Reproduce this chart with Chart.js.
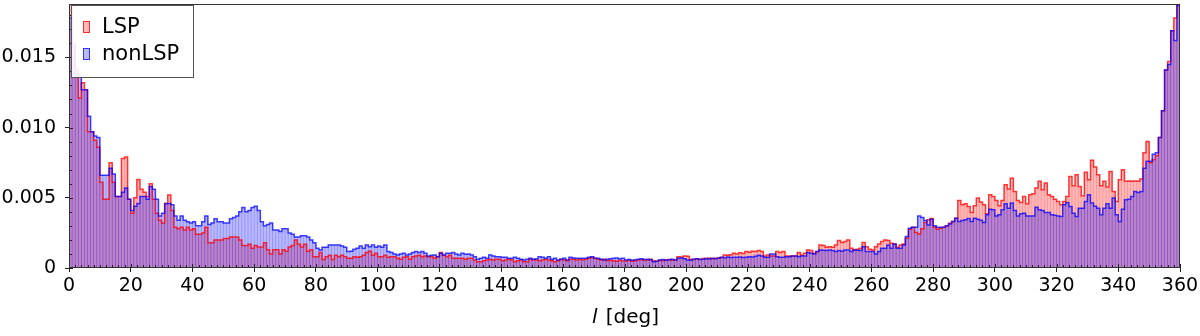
<!DOCTYPE html>
<html>
<head>
<meta charset="utf-8">
<script src="https://cdn.jsdelivr.net/npm/chart.js@4.4.1/dist/chart.umd.min.js"></script>
<style>
html,body{margin:0;padding:0;background:#fff;}
#wrap{width:1200px;height:336px;}
</style>
</head>
<body>
<div id="wrap"><canvas id="c" width="1200" height="336"></canvas></div>
<script>
// ---- data (1-degree bins, 0..360 deg) ----
const seriesLabels = ['LSP', 'nonLSP'];
const binStart = 0;
const binWidth = 1;

const lspValues = [
  // 0-39
  0.0195, 0.0160, 0.0142, 0.0121, 0.0132, 0.0127, 0.0097, 0.0097, 0.0091, 0.0086,
  0.0061, 0.0049, 0.0049, 0.0075, 0.0061, 0.0051, 0.0051, 0.0078, 0.0079, 0.0049,
  0.0039, 0.0050, 0.0063, 0.0056, 0.0054, 0.0051, 0.0060, 0.0049, 0.0039, 0.0034,
  0.0032, 0.0046, 0.0052, 0.0041, 0.0029, 0.0028, 0.0029, 0.0027, 0.0029, 0.0027,
  // 40-79
  0.0028, 0.0024, 0.0024, 0.0025, 0.0029, 0.0018, 0.0018, 0.0020, 0.0020, 0.0020,
  0.0021, 0.0021, 0.0022, 0.0022, 0.0022, 0.0020, 0.0016, 0.0016, 0.0017, 0.0014,
  0.0016, 0.0015, 0.0015, 0.0018, 0.0013, 0.0010, 0.0013, 0.0013, 0.0010, 0.0013,
  0.0012, 0.0015, 0.0016, 0.0020, 0.0017, 0.0015, 0.0017, 0.0012, 0.0013, 0.0008,
  // 80-127
  0.0008, 0.0011, 0.0006, 0.0008, 0.0009, 0.0006, 0.0009, 0.0008, 0.0009, 0.0008,
  0.0007, 0.0007, 0.0008, 0.00076, 0.0008, 0.0009, 0.0011, 0.0012, 0.0009, 0.00105,
  0.0008, 0.0008, 0.0009, 0.00076, 0.0008, 0.0008, 0.0007, 0.00062, 0.00076, 0.0008,
  0.00062, 0.0008, 0.00086, 0.0009, 0.0008, 0.00086, 0.0008, 0.0008, 0.0007, 0.0008,
  0.0011, 0.0009, 0.0008, 0.0009, 0.0007, 0.0007, 0.0007, 0.0007,
  // 128-175
  0.00062, 0.00069, 0.00069, 0.00057, 0.00045, 0.00045, 0.00052, 0.00057, 0.00062, 0.00057,
  0.00062, 0.00062, 0.00052, 0.00057, 0.00062, 0.00057, 0.00045, 0.00052, 0.00057, 0.00045,
  0.00045, 0.00062, 0.00057, 0.00057, 0.00052, 0.00057, 0.00062, 0.00057, 0.00052, 0.00045,
  0.00052, 0.00062, 0.00057, 0.00052, 0.00062, 0.00062, 0.00057, 0.00062, 0.00057, 0.00062,
  0.00069, 0.00076, 0.00069, 0.00062, 0.00057, 0.00062, 0.00052, 0.00055,
  // 176-223
  0.00052, 0.00048, 0.00055, 0.00050, 0.00050, 0.00057, 0.00048, 0.00052,
  0.00057, 0.00060, 0.00055, 0.00057, 0.00062, 0.00052, 0.00048, 0.00055, 0.00052,
  0.00057, 0.00060, 0.00055, 0.00057, 0.00080, 0.00078, 0.00086, 0.00083,
  0.00062, 0.00060, 0.00065, 0.00062, 0.00068, 0.00067, 0.00070, 0.00065, 0.00069,
  0.00072, 0.00075, 0.00093, 0.00090, 0.00095, 0.00105, 0.00100, 0.00108, 0.00103,
  0.00117, 0.00112, 0.00120, 0.00118, 0.00124,
  // 224-262
  0.00117, 0.00086, 0.00093, 0.00086, 0.00086, 0.00117, 0.0011, 0.00117, 0.00086, 0.00086,
  0.00086, 0.00086, 0.0011, 0.00093, 0.00105, 0.00129, 0.00124, 0.00105, 0.00117, 0.00164,
  0.0016, 0.00148, 0.00152, 0.00148, 0.00164, 0.00195, 0.00181, 0.00188, 0.002, 0.0014,
  0.00129, 0.00133, 0.0014, 0.00181, 0.00152, 0.00133, 0.00129, 0.00152, 0.00171,
  // 263-309
  0.00188, 0.002, 0.00195, 0.00176, 0.00171, 0.00148, 0.00164, 0.00171, 0.00212, 0.00276,
  0.0029, 0.00252, 0.00243, 0.0028, 0.00324, 0.00343, 0.00352, 0.0029, 0.00276, 0.00283,
  0.0029, 0.003, 0.00319, 0.00331, 0.00355, 0.00481, 0.0045, 0.00457, 0.00438, 0.00395,
  0.00443, 0.00498, 0.0047, 0.0045, 0.00386, 0.00521, 0.0051, 0.00481, 0.00443, 0.00481,
  0.00593, 0.00562, 0.0064, 0.00545, 0.00481, 0.00467, 0.0051,
  // 310-347
  0.00457, 0.00521, 0.00529, 0.00569, 0.00617, 0.00557, 0.00605, 0.00521, 0.00509, 0.0049,
  0.00474, 0.0045, 0.00474, 0.00509, 0.00652, 0.00586, 0.00664, 0.00581, 0.00514, 0.00681,
  0.00629, 0.00767, 0.0072, 0.00664, 0.00586, 0.00617, 0.00576, 0.00688, 0.00545, 0.00474,
  0.00629, 0.007, 0.00617, 0.0062, 0.00617, 0.0062, 0.00617, 0.00633,
  // 348-359
  0.0082, 0.0090, 0.0075, 0.0077, 0.0080, 0.0093, 0.0112, 0.0141, 0.0147, 0.0169, 0.0178, 0.0195
];

const nonLspValues = [
  // 0-39
  0.0178, 0.0158, 0.0138, 0.0137, 0.0127, 0.0127, 0.0108, 0.0097, 0.0094, 0.0093,
  0.0066, 0.0066, 0.0066, 0.0071, 0.0067, 0.0051, 0.0051, 0.0054, 0.0057, 0.0049,
  0.0041, 0.0044, 0.0046, 0.0051, 0.0051, 0.0049, 0.0058, 0.0056, 0.0049, 0.0037,
  0.0039, 0.0046, 0.0046, 0.0045, 0.0037, 0.0034, 0.0037, 0.0034, 0.0033, 0.0032,
  // 40-79
  0.0033, 0.0030, 0.0030, 0.0033, 0.0037, 0.0031, 0.0032, 0.0035, 0.0033, 0.0033,
  0.0032, 0.0032, 0.0035, 0.0036, 0.0037, 0.0040, 0.0043, 0.0040, 0.0041, 0.0043,
  0.0044, 0.0041, 0.0033, 0.0030, 0.0031, 0.0032, 0.0027, 0.0027, 0.0026, 0.0028,
  0.0028, 0.0025, 0.0024, 0.0022, 0.0022, 0.0023, 0.0023, 0.0022, 0.0020, 0.0018,
  // 80-127
  0.0014, 0.00129, 0.00148, 0.00148, 0.00164, 0.00164, 0.00164, 0.00164, 0.00157, 0.00148,
  0.00117, 0.0012, 0.00133, 0.0014, 0.00157, 0.0014, 0.00164, 0.00152, 0.00164, 0.00148,
  0.00157, 0.00148, 0.00164, 0.00117, 0.0011, 0.001, 0.00093, 0.001, 0.00105, 0.00093,
  0.001, 0.0011, 0.00117, 0.0011, 0.00117, 0.00105, 0.00086, 0.0009, 0.00093, 0.00081,
  0.00105, 0.00093, 0.00105, 0.00105, 0.0011, 0.001, 0.00093, 0.00105,
  // 128-175
  0.00098, 0.0010, 0.00093, 0.00081, 0.00062, 0.00069, 0.00076, 0.00069, 0.00093, 0.00086,
  0.00081, 0.0008, 0.00076, 0.00076, 0.00069, 0.00069, 0.00076, 0.00069, 0.00062, 0.00057,
  0.00062, 0.00069, 0.00062, 0.00066, 0.00081, 0.00076, 0.00069, 0.00081, 0.00062, 0.00069,
  0.00057, 0.00062, 0.00069, 0.00057, 0.00076, 0.00072, 0.00069, 0.00069, 0.00069, 0.00069,
  0.00076, 0.00081, 0.00069, 0.00069, 0.00062, 0.00057, 0.00062, 0.00065,
  // 176-223
  0.00069, 0.00072, 0.00066, 0.00069, 0.00057, 0.00060, 0.00055, 0.00058,
  0.00062, 0.00065, 0.00060, 0.00062, 0.00058, 0.00045, 0.00048,
  0.00057, 0.00060, 0.00055, 0.00058, 0.00062, 0.00057, 0.00069, 0.00072, 0.00066,
  0.00057, 0.00055, 0.00062, 0.00065, 0.00060, 0.00063, 0.00067, 0.00064, 0.00069, 0.00066, 0.00070,
  0.00076, 0.00073, 0.00078, 0.00074, 0.00076, 0.00076, 0.00079, 0.00074, 0.00077,
  0.00081, 0.00078, 0.00083, 0.0009,
  // 224-262
  0.00086, 0.00076, 0.00076, 0.001, 0.001, 0.00081, 0.00076, 0.00076, 0.00081, 0.00081,
  0.00086, 0.00086, 0.00081, 0.00086, 0.00086, 0.0011, 0.00105, 0.001, 0.00117, 0.00129,
  0.00126, 0.00124, 0.00129, 0.00124, 0.00117, 0.00124, 0.0012, 0.00129, 0.00129, 0.00117,
  0.00129, 0.00126, 0.00124, 0.00152, 0.00117, 0.00117, 0.00117, 0.001, 0.00117,
  // 263-309
  0.0014, 0.0014, 0.00164, 0.0014, 0.00171, 0.0014, 0.0014, 0.00164, 0.00224, 0.00283,
  0.0029, 0.0029, 0.00371, 0.0036, 0.00338, 0.00307, 0.00348, 0.003, 0.0029, 0.0029,
  0.0029, 0.003, 0.00314, 0.00331, 0.00355, 0.00331, 0.00338, 0.00343, 0.00352, 0.00331,
  0.00355, 0.00348, 0.0034, 0.00324, 0.00379, 0.00419, 0.00414, 0.00371, 0.00379, 0.00414,
  0.00457, 0.00426, 0.00462, 0.0041, 0.00371, 0.00386, 0.0039,
  // 310-347
  0.00371, 0.00371, 0.00371, 0.00433, 0.00414, 0.0041, 0.00395, 0.00395, 0.00379, 0.00375,
  0.00371, 0.00367, 0.0045, 0.00467, 0.00438, 0.0039, 0.00367, 0.00426, 0.00426, 0.00474,
  0.00521, 0.00462, 0.0044, 0.00426, 0.00379, 0.00426, 0.00457, 0.00426, 0.00498, 0.00379,
  0.00331, 0.00419, 0.00486, 0.0049, 0.00509, 0.00545, 0.00538, 0.00545,
  // 348-359
  0.0071, 0.0076, 0.0076, 0.0081, 0.0082, 0.0093, 0.0112, 0.0141, 0.0145, 0.0169, 0.0162, 0.0187
];

// axis ticks and labels
const xTickValues = [0, 20, 40, 60, 80, 100, 120, 140, 160, 180, 200, 220, 240, 260, 280, 300, 320, 340, 360];
const yTickValues = [0, 0.005, 0.010, 0.015];
const yTickLabels = ['0', '0.005', '0.010', '0.015'];
const xTitleItalic = 'l';
const xTitleRest = ' [deg]';
const xRange = [0, 360];
const yRange = [0, 0.0188];
const xMinorStep = 2;
const yMinorStep = 0.001;

// ---- build library data from arrays ----
const binCenters = lspValues.map((_, i) => binStart + (i + 0.5) * binWidth);
const toBars = vals => vals.map((v, i) => ({ x: binCenters[i], y: v }));
const toSteps = vals => {
  const pts = vals.map((v, i) => ({ x: binStart + i * binWidth, y: v }));
  pts.push({ x: binStart + vals.length * binWidth, y: vals[vals.length - 1] });
  return pts;
};

const FONT = '"DejaVu Sans", sans-serif';
const RED_FILL = 'rgba(255,0,0,0.28)';
const BLUE_FILL = 'rgba(0,0,255,0.28)';
const RED_LINE = 'rgba(255,0,0,0.75)';
const BLUE_LINE = 'rgba(0,0,255,0.72)';
const AX = '#222';

Chart.defaults.font.family = FONT;
Chart.defaults.color = '#000';

const decorations = {
  id: 'decorations',
  afterDatasetsDraw(chart) {
    const { ctx, chartArea: a, scales: { x, y } } = chart;
    ctx.save();
    ctx.strokeStyle = AX;
    ctx.lineWidth = 1;
    ctx.beginPath();
    for (let v = xRange[0]; v <= xRange[1] + 1e-9; v += xMinorStep) {
      const px = Math.round(x.getPixelForValue(v)) + 0.5;
      const major = xTickValues.includes(v);
      const len = major ? 4 : 3;
      ctx.moveTo(px, a.bottom);
      ctx.lineTo(px, a.bottom - len);
    }
    for (let k = 0; k * yMinorStep <= yRange[1] + 1e-12; k++) {
      const v = k * yMinorStep;
      const py = Math.round(y.getPixelForValue(v)) + 0.5;
      const major = k % 5 === 0;
      const len = major ? 4 : 3;
      ctx.moveTo(a.left, py);
      ctx.lineTo(a.left + len, py);
    }
    ctx.stroke();
    ctx.strokeStyle = '#333';
    ctx.strokeRect(Math.round(a.left) + 0.5, Math.round(a.top) + 0.5,
                   Math.round(a.right - a.left) - 1, Math.round(a.bottom - a.top) - 1);
    ctx.restore();
  },
  afterDraw(chart) {
    const { ctx, chartArea: a } = chart;
    ctx.save();
    ctx.textBaseline = 'middle';
    ctx.textAlign = 'left';
    ctx.fillStyle = '#000';
    ctx.font = 'italic 20px ' + FONT;
    const w1 = ctx.measureText(xTitleItalic).width;
    ctx.font = '20px ' + FONT;
    const w2 = ctx.measureText(xTitleRest).width;
    const cx = (a.left + a.right) / 2;
    const sx = cx - (w1 + w2) / 2;
    ctx.font = 'italic 20px ' + FONT;
    ctx.fillText(xTitleItalic, sx, 318);
    ctx.font = '20px ' + FONT;
    ctx.fillText(xTitleRest, sx + w1 + 2, 318);

    // legend
    const lx = a.left + 2, ly = a.top + 1, lw = 122, lh = 72;
    ctx.fillStyle = 'rgba(255,255,255,0.9)';
    ctx.fillRect(lx, ly, lw, lh);
    ctx.strokeStyle = '#555';
    ctx.lineWidth = 1;
    ctx.strokeRect(lx + 0.5, ly + 0.5, lw, lh);
    const entries = [
      { label: seriesLabels[0], fill: RED_FILL, line: RED_LINE },
      { label: seriesLabels[1], fill: BLUE_FILL, line: BLUE_LINE }
    ];
    entries.forEach((e, i) => {
      const cy = ly + 22 + i * 27;
      ctx.fillStyle = e.fill;
      ctx.fillRect(lx + 12, cy - 6, 7, 12);
      ctx.strokeStyle = e.line;
      ctx.lineWidth = 1;
      ctx.strokeRect(lx + 12.5, cy - 5.5, 6, 11);
      ctx.fillStyle = '#000';
      ctx.font = '21px ' + FONT;
      ctx.textBaseline = 'middle';
      ctx.fillText(e.label, lx + 31, cy + 1);
    });
    ctx.restore();
  }
};

new Chart(document.getElementById('c'), {
  type: 'bar',
  data: {
    datasets: [
      { type: 'line', label: seriesLabels[1] + ' outline', data: toSteps(nonLspValues), stepped: 'before',
        borderColor: BLUE_LINE, borderWidth: 1.5, pointRadius: 0, fill: false, order: 0 },
      { type: 'line', label: seriesLabels[0] + ' outline', data: toSteps(lspValues), stepped: 'before',
        borderColor: RED_LINE, borderWidth: 1.5, pointRadius: 0, fill: false, order: 1 },
      { label: seriesLabels[1], data: toBars(nonLspValues), backgroundColor: BLUE_FILL,
        borderWidth: 0, barPercentage: 1, categoryPercentage: 1, grouped: false, order: 2 },
      { label: seriesLabels[0], data: toBars(lspValues), backgroundColor: RED_FILL,
        borderWidth: 0, barPercentage: 1, categoryPercentage: 1, grouped: false, order: 3 }
    ]
  },
  options: {
    responsive: false,
    animation: false,
    devicePixelRatio: 1,
    events: [],
    layout: { padding: { top: 4, right: 20, left: 0, bottom: 0 } },
    plugins: { legend: { display: false }, tooltip: { enabled: false } },
    scales: {
      x: {
        type: 'linear', min: xRange[0], max: xRange[1], offset: false,
        afterFit: s => { s.height = 68; s.paddingLeft = 0; s.paddingRight = 0; },
        afterBuildTicks: s => { s.ticks = xTickValues.map(v => ({ value: v })); },
        ticks: { font: { size: 19, family: FONT }, color: '#000', padding: 3, maxRotation: 0, autoSkip: false,
                 callback: v => String(v) },
        grid: { display: true, drawOnChartArea: false, drawTicks: true, tickLength: 4, tickColor: AX, offset: false },
        border: { display: false }
      },
      y: {
        type: 'linear', min: yRange[0], max: yRange[1],
        afterFit: s => { s.width = 69; s.paddingTop = 0; s.paddingBottom = 0; },
        afterBuildTicks: s => { s.ticks = yTickValues.map(v => ({ value: v })); },
        ticks: { font: { size: 19, family: FONT }, color: '#000', padding: 9,
                 callback: v => { const i = yTickValues.findIndex(t => Math.abs(t - v) < 1e-9); return i >= 0 ? yTickLabels[i] : ''; } },
        grid: { display: true, drawOnChartArea: false, drawTicks: true, tickLength: 4, tickColor: AX },
        border: { display: false }
      }
    }
  },
  plugins: [decorations]
});
</script>
</body>
</html>
